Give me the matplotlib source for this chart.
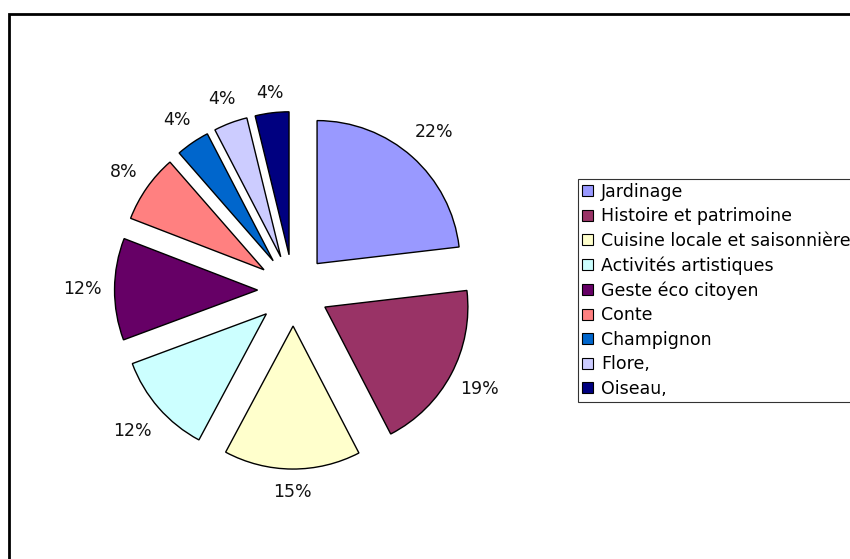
import numpy as np
import matplotlib
matplotlib.use("Agg")
import matplotlib.pyplot as plt
from matplotlib.patches import Rectangle, Patch

categories = ["Jardinage", "Histoire et patrimoine", "Cuisine locale et saisonnière",
              "Activités artistiques", "Geste éco citoyen", "Conte", "Champignon",
              "Flore,", "Oiseau,"]
# slice sizes as measured from the slice angles in the picture (percent of circle)
shares = [23.1, 19.2, 15.4, 11.5, 11.5, 7.7, 3.8, 3.8, 3.8]
# percentage labels as printed on the chart
pct_labels = ["22%", "19%", "15%", "12%", "12%", "8%", "4%", "4%", "4%"]
colors = ["#9999FF", "#993366", "#FFFFCC", "#CCFFFF", "#660066", "#FF8080",
          "#0066CC", "#CCCCFF", "#000080"]

# layout
W, H = 850, 559
cx, cy = 293.3, 290.3      # pie centre, pixels from top-left
R = 143.0                  # radius in pixels
explode_frac = 0.25
label_dist = [1.228, 1.223, 1.164, 1.243, 1.224, 1.194, 1.195, 1.176, 1.139]

plt.rcParams['font.family'] = ['DejaVu Sans']
fig = plt.figure(figsize=(W / 100, H / 100), dpi=100)
ax = fig.add_axes([0, 0, 1, 1])

wedges, texts = ax.pie(
    shares, colors=colors, startangle=90, counterclock=False,
    explode=[explode_frac] * len(shares), radius=1.0,
    wedgeprops=dict(edgecolor='black', linewidth=1.0))

for w, lab, d in zip(wedges, pct_labels, label_dist):
    ang = np.deg2rad((w.theta1 + w.theta2) / 2)
    r = explode_frac + d
    ax.text(r * np.cos(ang), r * np.sin(ang), lab, ha='center', va='center',
            fontsize=12.5, color='#111111')

ax.set_xlim(-cx / R, (W - cx) / R)
ax.set_ylim(-(H - cy) / R, cy / R)
ax.set_aspect('auto')
ax.axis('off')

# chart-area border (left and top visible, the rest runs off the image)
fig.patches.append(Rectangle((9 / W, -0.1), 1.2, (H - 14) / H + 0.1,
                             transform=fig.transFigure, fill=False,
                             edgecolor='black', linewidth=2.0))

handles = [Patch(facecolor=c, edgecolor='black', linewidth=0.8) for c in colors]
leg = fig.legend(handles, categories, loc='upper left',
                 bbox_to_anchor=(578 / W, 1 - 179 / H),
                 fontsize=12.5, frameon=True, fancybox=False, shadow=False,
                 borderpad=0.22, handlelength=0.62, handleheight=0.62,
                 handletextpad=0.5, labelspacing=0.375, borderaxespad=0)
leg.get_frame().set_edgecolor('black')
leg.get_frame().set_linewidth(0.8)

fig.savefig("out.png", dpi=100)
